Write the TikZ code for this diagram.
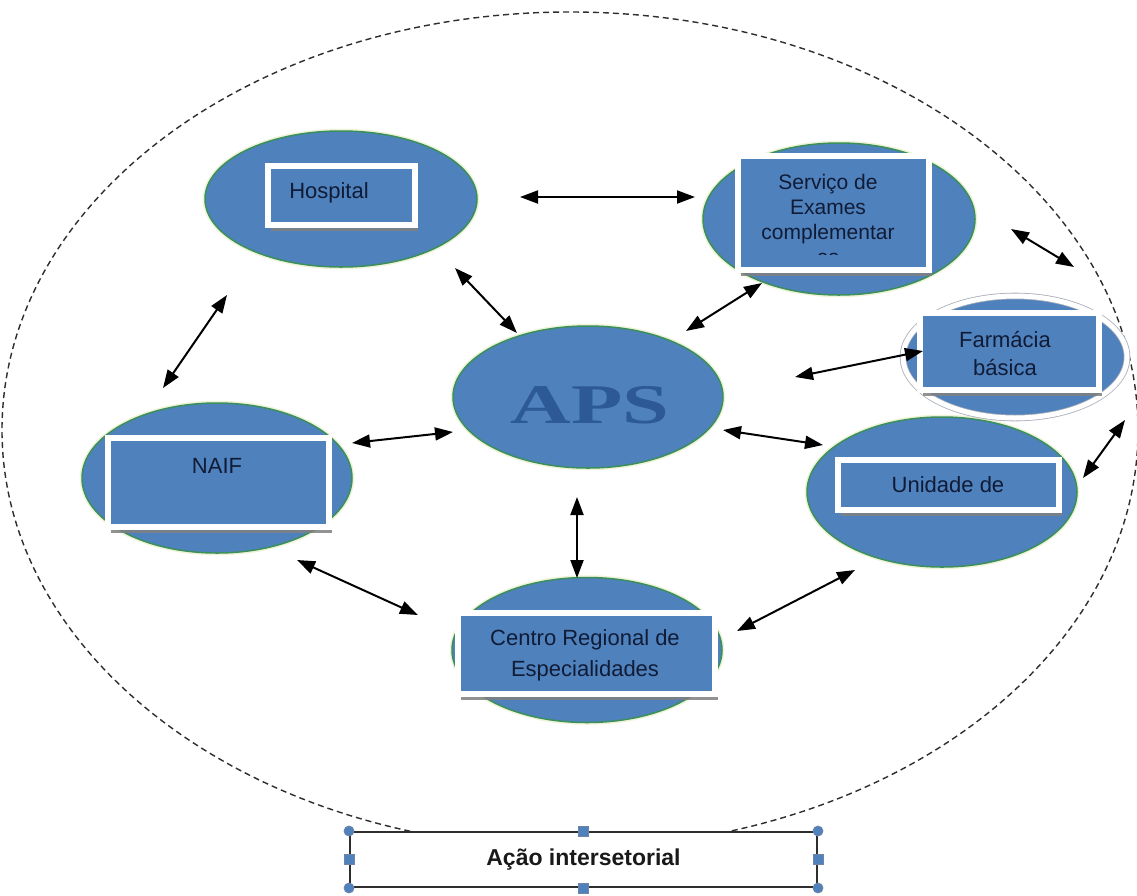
\documentclass[tikz,border=0pt]{standalone}
\usepackage{fontspec}
\setmainfont{Liberation Sans}
\newfontfamily\apsfont{Liberation Serif}
\usetikzlibrary{shapes.geometric, arrows.meta, shadows}

\definecolor{nodeblue}{HTML}{4F81BD}
\definecolor{rimgreen}{HTML}{3A8F5C}
\definecolor{rimglow}{HTML}{EEF3D6}
\definecolor{labelink}{HTML}{101B36}
\definecolor{apsink}{HTML}{2D5A97}
\definecolor{ringgray}{HTML}{A9AEB8}
\definecolor{frameline}{HTML}{2E2E2E}
\definecolor{handleedge}{HTML}{6F84A6}

\begin{document}
\begin{tikzpicture}[x=1pt, y=-1pt,
  ell/.style={ellipse, draw=rimgreen, line width=1.5pt, fill=nodeblue,
    inner sep=0pt, preaction={draw=rimglow, line width=4.5pt}},
  ringell/.style={ellipse, draw=ringgray, line width=0.8pt, double=white,
    double distance=5pt, fill=nodeblue, inner sep=0pt},
  tagbox/.style={rectangle, draw=white, line width=6pt, fill=nodeblue, inner sep=0pt,
    drop shadow={shadow xshift=2.5pt, shadow yshift=-5.5pt, fill=black!50, opacity=0.85}},
  lbl/.style={text=labelink, font=\fontsize{22}{28}\selectfont, align=center, inner sep=0pt},
  link/.style={{Triangle[length=18pt,width=13pt]}-{Triangle[length=18pt,width=13pt]},
    line width=2pt, black},
  corner/.style={circle, draw=handleedge, line width=0.8pt, fill=nodeblue,
    minimum size=10pt, inner sep=0pt},
  midgrip/.style={rectangle, draw=handleedge, line width=0.8pt, fill=nodeblue,
    minimum size=10pt, inner sep=0pt}
]
\useasboundingbox (0,0) rectangle (1137,895);
\fill[white] (0,0) rectangle (1137,895);

% outer dashed boundary of the intersectoral network
\draw[frameline, line width=1.4pt, dash pattern=on 6pt off 4pt]
  (570,430) ellipse [x radius=568pt, y radius=418pt];

% services (ellipses)
\node[ell, minimum width=272pt, minimum height=136pt] (hosp) at (341,199) {};
\node[ell, minimum width=272pt, minimum height=152pt] (serv) at (839,219) {};
\node[ell, minimum width=270pt, minimum height=142pt] (aps)  at (588,397) {};
\node[ell, minimum width=270pt, minimum height=150pt] (naif) at (217,478) {};
\node[ell, minimum width=270pt, minimum height=150pt] (unid) at (942,492) {};
\node[ell, minimum width=270pt, minimum height=145pt] (crs)  at (587,650) {};
\node[ringell, minimum width=224pt, minimum height=122pt] (farm) at (1015,357) {};

% label boxes
\node[tagbox, minimum width=147pt, minimum height=59pt]  (hospbox) at (341.5,195.5) {};
\node[tagbox, minimum width=191pt, minimum height=114pt] (servbox) at (833.5,213) {};
\node[tagbox, minimum width=179pt, minimum height=77pt]  (farmbox) at (1009.5,351.5) {};
\node[tagbox, minimum width=221pt, minimum height=89pt]  (naifbox) at (218.5,482.5) {};
\node[tagbox, minimum width=221pt, minimum height=50pt]  (unidbox) at (948.5,485) {};
\node[tagbox, minimum width=257pt, minimum height=81pt]  (crsbox)  at (586.5,653.5) {};

% labels
\node[lbl] (hosp-t) at (329,193) {Hospital};
\begin{scope}
  \clip (742,155) rectangle (925,254);
  \node[lbl, font=\fontsize{21}{25}\selectfont, anchor=north] (serv-t) at (828,174)
    {Serviço de\\Exames\\complementar\\es};
\end{scope}
\node[lbl, anchor=north] (farm-t) at (1005,331) {Farmácia\\básica};
\node[lbl] (naif-t) at (217,466) {NAIF};
\node[lbl] (unid-t) at (948,485) {Unidade de};
\node[lbl, font=\fontsize{22}{31}\selectfont, anchor=north] (crs-t) at (585,629)
  {Centro Regional de\\Especialidades};
\node[text=apsink, font=\apsfont\bfseries\fontsize{56}{56}\selectfont, inner sep=0pt]
  (aps-t) at (590,405) {\scalebox{1.5}[1]{APS}};

% connector end points
\coordinate (hs-a) at (520,197);  \coordinate (hs-b) at (695,197);
\coordinate (ha-a) at (455,268);  \coordinate (ha-b) at (517,333);
\coordinate (sa-a) at (762,283);  \coordinate (sa-b) at (686,331);
\coordinate (sr-a) at (1011,229); \coordinate (sr-b) at (1074,267);
\coordinate (af-a) at (795,377);  \coordinate (af-b) at (923,351);
\coordinate (na-a) at (352,443);  \coordinate (na-b) at (453,432);
\coordinate (au-a) at (723,430);  \coordinate (au-b) at (823,445);
\coordinate (ac-a) at (577,497);  \coordinate (ac-b) at (577,578);
\coordinate (nc-a) at (297,560);  \coordinate (nc-b) at (418,615);
\coordinate (cu-a) at (737,631);  \coordinate (cu-b) at (855,570);
\coordinate (ur-a) at (1083,478); \coordinate (ur-b) at (1125,420);
\coordinate (hn-a) at (227,295);  \coordinate (hn-b) at (163,388);

\draw[link] (hs-a) -- (hs-b);
\draw[link] (ha-a) -- (ha-b);
\draw[link] (sa-a) -- (sa-b);
\draw[link] (sr-a) -- (sr-b);
\draw[link] (af-a) -- (af-b);
\draw[link] (na-a) -- (na-b);
\draw[link] (au-a) -- (au-b);
\draw[link] (ac-a) -- (ac-b);
\draw[link] (nc-a) -- (nc-b);
\draw[link] (cu-a) -- (cu-b);
\draw[link] (ur-a) -- (ur-b);
\draw[link] (hn-a) -- (hn-b);

% caption frame with selection handles
\node[rectangle, draw=frameline, line width=2pt, fill=white, inner sep=0pt,
  minimum width=467pt, minimum height=55pt, text=black!90,
  font=\bfseries\fontsize{23}{23}\selectfont] (act) at (583.5,859.5) {Ação intersetorial};
\node[corner]  (g-nw) at (act.north west) {};
\node[corner]  (g-ne) at (act.north east) {};
\node[corner]  (g-sw) at (act.south west) {};
\node[corner]  (g-se) at (act.south east) {};
\node[midgrip] (g-n)  at (act.north) {};
\node[midgrip] (g-s)  at (act.south) {};
\node[midgrip] (g-w)  at (act.west) {};
\node[midgrip] (g-e)  at (act.east) {};
\end{tikzpicture}
\end{document}
